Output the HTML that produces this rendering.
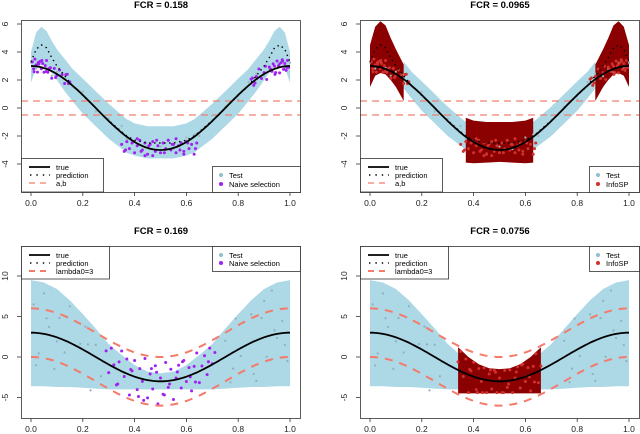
<!DOCTYPE html>
<html><head><meta charset="utf-8"><style>
html,body{margin:0;padding:0;background:#fff;}
svg{display:block;font-family:"Liberation Sans",sans-serif;}
</style></head><body>
<svg id="fig" width="640" height="434" viewBox="0 0 640 434"></svg>
<script>
// ---------- data ----------
const titles = ["FCR =  0.158","FCR =  0.0965","FCR =  0.169","FCR =  0.0756"];
const xTicks = [0,0.2,0.4,0.6,0.8,1.0];
const xTickLabels = ["0.0","0.2","0.4","0.6","0.8","1.0"];
const yTicksTop = [-4,-2,0,2,4,6];
const yTicksBot = [-5,0,5,10];
// top panels: prediction & band
const gridX = [0,0.02,0.04,0.06,0.08,0.10,0.13,0.16,0.20,0.25,0.30,0.35,0.37,0.40,0.45,0.50,0.55,0.60,0.63,0.65,0.70,0.75,0.80,0.84,0.87,0.90,0.92,0.94,0.96,0.98,1.0];
const predTop = [3.3,4.2,4.5,4.3,3.6,3.0,2.3,1.6,0.9,0.0,-0.9,-1.7,-2.0,-2.3,-2.5,-2.5,-2.5,-2.3,-2.0,-1.7,-0.9,0.0,0.9,1.6,2.3,3.0,3.6,4.3,4.5,4.2,3.3];
const bandHi1 = [4.0,5.4,5.8,5.5,4.8,4.2,3.5,2.8,2.1,1.2,0.3,-0.5,-0.8,-1.1,-1.3,-1.3,-1.3,-1.1,-0.8,-0.5,0.3,1.2,2.1,2.8,3.5,4.2,4.8,5.5,5.8,5.4,4.0];
const bandLo1 = [1.8,2.9,3.1,3.0,2.5,2.0,1.2,0.5,-0.4,-1.3,-2.2,-2.9,-3.2,-3.4,-3.6,-3.6,-3.6,-3.4,-3.2,-2.9,-2.2,-1.3,-0.4,0.5,1.2,2.0,2.5,3.0,3.1,2.9,1.8];
const bandHi2 = [4.5,5.8,6.2,5.9,5.0,4.2,3.1,2.6,1.9,1.0,0.1,-0.6,-0.7,-0.9,-1.0,-1.0,-1.0,-0.9,-0.7,-0.6,0.1,1.0,1.9,2.6,3.1,4.2,5.0,5.9,6.2,5.8,4.5];
const bandLo2 = [1.5,2.3,2.5,2.4,2.0,1.5,0.5,0.0,-0.6,-1.4,-2.3,-3.0,-3.9,-3.95,-3.9,-3.85,-3.9,-3.95,-3.9,-3.0,-2.3,-1.4,-0.6,0.0,0.5,1.5,2.0,2.4,2.5,2.3,1.5];
// bottom panels band
const gridB = [0,0.05,0.1,0.15,0.2,0.25,0.3,0.34,0.4,0.45,0.5,0.55,0.6,0.66,0.7,0.75,0.8,0.85,0.9,0.95,1.0];
const bandHiB = [9.5,9.2,8.4,7.0,5.3,3.5,1.6,0.5,-1.0,-1.8,-2.0,-1.8,-1.0,0.5,1.6,3.5,5.3,7.0,8.4,9.2,9.5];
const bandLoB = [-3.6,-3.6,-3.7,-3.7,-3.8,-3.9,-4.0,-4.0,-4.0,-4.0,-4.0,-4.0,-4.0,-4.0,-4.0,-3.9,-3.8,-3.7,-3.7,-3.6,-3.6];
const redHiB = [1.2,0.0,-0.9,-1.4,-1.5,-1.4,-0.9,0.0,1.2];
const redXB = [0.34,0.38,0.42,0.46,0.5,0.54,0.58,0.62,0.66];
// selected points (x and residual from true curve)
const endX = [0.005,0.01,0.015,0.02,0.025,0.03,0.035,0.04,0.045,0.05,0.055,0.06,0.065,0.07,0.08,0.09,0.1,0.11,0.12,0.13,0.14,0.15,0.012,0.028,0.042,0.058,0.075,0.095,0.135,0.145];
const endR = [0.3,-0.2,0.5,0.1,-0.4,0.2,0.4,-0.1,0.3,-0.3,0.2,0.6,-0.2,0.1,-0.5,0.3,-0.1,0.4,0.2,-0.3,0.5,0.1,-0.4,0.3,0.5,-0.2,0.2,-0.3,0.4,-0.1];
const midX = [0.35,0.36,0.37,0.38,0.39,0.40,0.41,0.42,0.43,0.44,0.45,0.46,0.47,0.48,0.49,0.50,0.51,0.52,0.53,0.54,0.55,0.56,0.57,0.58,0.59,0.60,0.61,0.62,0.63,0.64,0.365,0.395,0.425,0.455,0.485,0.515,0.545,0.575,0.605,0.635,0.41,0.47,0.53,0.59,0.44,0.56];
const midR = [0.2,-0.3,0.4,-0.1,0.3,-0.4,0.1,0.5,-0.2,0.3,-0.5,0.2,0.4,-0.3,0.1,-0.4,0.3,-0.1,0.5,-0.2,0.2,-0.4,0.1,0.3,-0.3,0.4,-0.1,0.2,-0.5,0.3,-0.2,0.4,-0.3,0.1,0.5,-0.4,0.2,-0.2,0.3,-0.1,0.6,-0.6,0.5,-0.5,-0.6,0.6];
const botX = [0.29,0.30,0.31,0.32,0.33,0.34,0.35,0.36,0.37,0.38,0.39,0.40,0.41,0.42,0.43,0.44,0.45,0.46,0.47,0.48,0.49,0.50,0.51,0.52,0.53,0.54,0.55,0.56,0.57,0.58,0.59,0.60,0.61,0.62,0.63,0.64,0.65,0.66,0.67,0.68,0.69,0.70,0.71,0.335,0.385,0.435,0.485,0.535,0.585,0.635,0.685,0.415,0.465,0.515,0.565,0.615];
const botR = [1.5,-1.0,2.2,0.3,-2.0,1.0,2.5,-0.5,1.8,-2.5,0.6,2.0,-1.5,1.2,-0.3,2.6,-2.2,0.8,-1.0,1.9,-2.8,0.4,-1.6,2.3,-0.8,1.4,-2.4,0.2,1.7,-1.2,2.1,-0.6,1.0,-2.0,0.9,2.4,-1.4,0.5,1.6,-0.9,2.2,0.1,1.3,-1.8,0.7,-2.6,1.1,-0.4,2.0,-1.1,0.6,-2.3,1.5,-1.7,0.9,-0.2];
const testX = [0.01,0.03,0.05,0.07,0.09,0.11,0.13,0.15,0.17,0.19,0.21,0.23,0.25,0.27,0.75,0.77,0.79,0.81,0.83,0.85,0.87,0.89,0.91,0.93,0.95,0.97,0.99,0.02,0.06,0.1,0.14,0.18,0.22,0.78,0.82,0.86,0.9,0.94,0.98];
const testR = [3.5,-2.5,5.0,1.0,-4.0,2.5,-1.5,4.5,-3.0,0.5,3.0,-4.5,1.5,-2.0,2.0,-3.5,4.0,-1.0,0.0,3.5,-5.0,2.5,-2.5,5.5,-0.5,1.5,-3.5,-4.0,2.0,-0.5,3.0,-3.0,1.0,-2.0,3.0,-4.0,4.5,0.5,-1.5];

// ---------- helpers ----------
const NS="http://www.w3.org/2000/svg";
const svg=document.getElementById('fig');
function el(tag,attrs,parent,txt){const e=document.createElementNS(NS,tag);for(const k in attrs)e.setAttribute(k,attrs[k]);if(txt!==undefined)e.textContent=txt;(parent||svg).appendChild(e);return e;}
function trueF(x){return 3*Math.cos(2*Math.PI*x);}
const panels=[
 {x0:31,x1:290,bl:21,br:301,bt:20,bb:192,y0:108,ys:14,top:true,ty:8},
 {x0:370,x1:629,bl:360,br:640,bt:20,bb:192,y0:108,ys:14,top:true,ty:8},
 {x0:31,x1:290,bl:21,br:301,bt:246,bb:418,y0:357,ys:8.1,top:false,ty:234},
 {x0:370,x1:629,bl:360,br:640,bt:246,bb:418,y0:357,ys:8.1,top:false,ty:234}
];
function polyBand(g,P,xs,hi,lo,fill,name){
 const sx=v=>P.x0+(P.x1-P.x0)*v, sy=v=>P.y0-P.ys*v;
 let pts=xs.map((x,i)=>sx(x).toFixed(1)+','+sy(hi[i]).toFixed(1));
 for(let i=xs.length-1;i>=0;i--)pts.push(sx(xs[i]).toFixed(1)+','+sy(lo[i]).toFixed(1));
 const p=el('polygon',{points:pts.join(' '),fill:fill},g);
 
 
}
function subset(xs,arr,a,b){const X=[],Y=[];xs.forEach((x,i)=>{if(x>=a-1e-9&&x<=b+1e-9){X.push(x);Y.push(arr[i]);}});return [X,Y];}
function interp(xs,ys,x){for(let i=0;i<xs.length-1;i++){if(x>=xs[i]&&x<=xs[i+1]){const t=(x-xs[i])/(xs[i+1]-xs[i]);return ys[i]+t*(ys[i+1]-ys[i]);}}return ys[ys.length-1];}

panels.forEach((P,pi)=>{
 const g=el('g',{});
 
 
 const sx=v=>P.x0+(P.x1-P.x0)*v, sy=v=>P.y0-P.ys*v;
 const cid='clip'+pi;
 const cp=el('clipPath',{id:cid},g); el('rect',{x:P.bl,y:P.bt,width:P.br-P.bl,height:P.bb-P.bt},cp);
 const plot=el('g',{'clip-path':'url(#'+cid+')'},g);
 if(pi===0){polyBand(plot,P,gridX,bandHi1,bandLo1,'#ADD8E6','interval-band');}
 if(pi===1){
  let [X,H]=subset(gridX,bandHi1,0.13,0.87);let [,L]=subset(gridX,bandLo1,0.13,0.87);
  H=H.map(v=>v-0.2);L=L.map(v=>v+0.2);
  polyBand(plot,P,X,H,L,'#ADD8E6','interval-band');
  [[0,0.13],[0.37,0.63],[0.87,1]].forEach(([a,b],k)=>{const [XX,HH]=subset(gridX,bandHi2,a,b);const [,LL]=subset(gridX,bandLo2,a,b);polyBand(plot,P,XX,HH,LL,'#8B0000','selected-band-'+(k+1));});
 }
 if(pi>=2){polyBand(plot,P,gridB,bandHiB,bandLoB,'#ADD8E6','interval-band');}
 if(pi===3){polyBand(plot,P,redXB,redHiB,redXB.map(()=>-4.5),'#8B0000','selected-band');}
 if(pi<2){
  gridX.forEach((x,i)=>{const c=el('circle',{cx:sx(x),cy:sy(trueF(x)+endR[i%endR.length]*0.8),r:1.1,fill:'#9DB7C0'},plot);});
 } else {
  testX.forEach((x,i)=>{const c=el('circle',{cx:sx(x),cy:sy(trueF(x)+testR[i]),r:1.1,fill:'#8FAFBA'},plot);});
 }
 const selCol=(pi%2===0)?'#A020F0':'#D0302E';
 if(pi<2){
  const pts=[];
  endX.forEach((x,i)=>{pts.push([x,trueF(x)+endR[i]]);pts.push([1-x,trueF(1-x)+endR[endR.length-1-i]]);});
  midX.forEach((x,i)=>pts.push([x,-2.8+midR[i]]));
  pts.forEach(([x,y])=>{const c=el('circle',{cx:sx(x),cy:sy(y),r:1.5,fill:selCol},plot);});
 } else {
  botX.forEach((x,i)=>{
   let y=trueF(x)+botR[i];
   if(pi===3){ if(x<0.34||x>0.66) return; const hi=interp(redXB,redHiB,x); y=Math.max(-4.4,Math.min(hi-0.2,y)); }
   const c=el('circle',{cx:sx(x),cy:sy(y),r:1.5,fill:selCol},plot);});
 }
 if(P.top){
  [0.5,-0.5].forEach((v,k)=>{const l=el('line',{x1:P.bl,x2:P.br,y1:sy(v),y2:sy(v),stroke:'#F08070','stroke-width':1.3,'stroke-dasharray':'7,5'},plot);});
 } else {
  [3,-3].forEach((d,k)=>{let s='';for(let i=0;i<=100;i++){const x=i/100;s+=(i?'L':'M')+sx(x).toFixed(1)+','+sy(trueF(x)+d).toFixed(1);}const p=el('path',{d:s,fill:'none',stroke:'#F47A6A','stroke-width':2,'stroke-dasharray':'8,7'},plot);});
 }
 if(P.top){
  let s='';for(let i=0;i<=100;i++){const x=i/100;s+=(i?'L':'M')+sx(x).toFixed(1)+','+sy(interp(gridX,predTop,x)).toFixed(1);}
  const p=el('path',{d:s,fill:'none',stroke:'#000','stroke-width':1.4,'stroke-dasharray':'1.4,3.6'},plot);
  
 }
 let s='';for(let i=0;i<=100;i++){const x=i/100;s+=(i?'L':'M')+sx(x).toFixed(1)+','+sy(trueF(x)).toFixed(1);}
 const tl=el('path',{d:s,fill:'none',stroke:'#000','stroke-width':1.8},plot);
 
 const bx=el('rect',{x:P.bl+0.5,y:P.bt+0.5,width:P.br-P.bl-1,height:P.bb-P.bt,fill:'none',stroke:'#333','stroke-width':0.8},g);
 
 xTicks.forEach((v,i)=>{el('line',{x1:sx(v),x2:sx(v),y1:P.bb,y2:P.bb+4,stroke:'#333','stroke-width':0.8},g);
  const t=el('text',{x:sx(v),y:P.bb+14,'font-size':8.5,'text-anchor':'middle',fill:'#222'},g,xTickLabels[i]);});
 const yT=P.top?yTicksTop:yTicksBot;
 yT.forEach(v=>{const y=sy(v);el('line',{x1:P.bl-4,x2:P.bl,y1:y,y2:y,stroke:'#333','stroke-width':0.8},g);
  const tx=P.bl-13;const t=el('text',{x:tx,y:y,'font-size':8.5,'text-anchor':'middle',fill:'#222',transform:`rotate(-90 ${tx} ${y})`},g,String(v));});
 const tt=el('text',{x:(P.bl+P.bl+280)/2,y:P.ty,'font-size':9.5,'font-weight':'bold','text-anchor':'middle',fill:'#000'},g,titles[pi]);
 
 const lt=P.top?158:246, lb=P.top?192:279, lw=P.top?82:88;
 const lg=el('g',{},g);
 el('rect',{x:P.bl+0.5,y:lt+0.5,width:lw,height:lb-lt-0.5,fill:'#fff',stroke:'#333','stroke-width':0.8},lg);
 const ey=P.top?[167,175,183]:[255,263,271];
 const labs=['true','prediction',P.top?'a,b':'lambda0=3'];
 el('line',{x1:P.bl+8,x2:P.bl+29,y1:ey[0],y2:ey[0],stroke:'#000','stroke-width':1.8},lg);
 el('line',{x1:P.bl+9,x2:P.bl+29,y1:ey[1],y2:ey[1],stroke:'#000','stroke-width':1.4,'stroke-dasharray':'1.4,5'},lg);
 el('line',{x1:P.bl+8,x2:P.bl+29,y1:ey[2],y2:ey[2],stroke:'#F47A6A','stroke-width':P.top?1.3:2,'stroke-dasharray':'6,5'},lg);
 labs.forEach((s,i)=>{const t=el('text',{x:P.bl+35,y:ey[i]+3,'font-size':7.5,fill:'#000'},lg,s);});
 const rl=pi%2===0?212:589, rt=P.top?166:246, rb=P.top?192:271;
 const rg=el('g',{},g);
 el('rect',{x:rl+0.5,y:rt+0.5,width:P.br-rl-1,height:rb-rt,fill:'#fff',stroke:'#333','stroke-width':0.8},rg);
 const ry=P.top?[175,184]:[255,263];
 el('circle',{cx:rl+9,cy:ry[0],r:2,fill:'#8FBFD0'},rg);
 el('circle',{cx:rl+9,cy:ry[1],r:2,fill:selCol},rg);
 [ 'Test', pi%2===0?'Naive selection':'InfoSP'].forEach((s,i)=>{const t=el('text',{x:rl+17,y:ry[i]+3,'font-size':7.5,fill:'#000'},rg,s);});
});
</script>
</body></html>
